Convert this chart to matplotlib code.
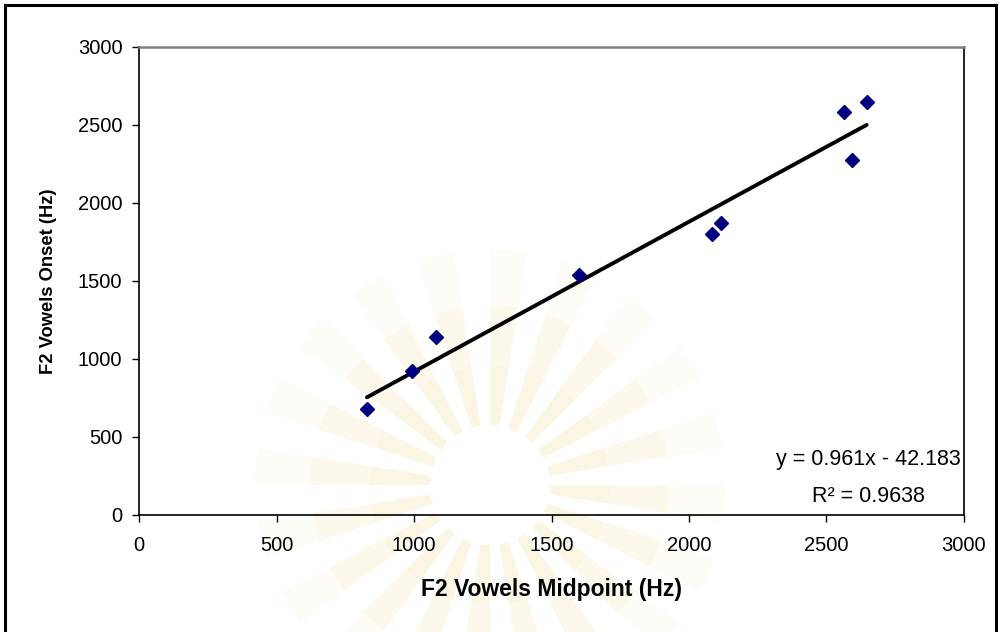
import matplotlib
matplotlib.use("Agg")
import matplotlib.pyplot as plt
from matplotlib.patches import Rectangle, Wedge
import numpy as np

plt.rcParams['font.family'] = ['Liberation Sans', 'DejaVu Sans']

# F2 measurements (Hz): vowel midpoint vs. vowel onset
midpoint = [829, 993, 1080, 1600, 2085, 2115, 2565, 2593, 2646]
onset = [680, 920, 1140, 1540, 1800, 1870, 2585, 2278, 2650]

# linear trendline as reported
slope = 0.961
intercept = -42.183
r_squared = 0.9638

x_ticks = [0, 500, 1000, 1500, 2000, 2500, 3000]
y_ticks = [0, 500, 1000, 1500, 2000, 2500, 3000]

W, H = 999, 632
fig = plt.figure(figsize=(W / 100, H / 100), dpi=100)

# very pale sunburst emblem in the page background (pixel coordinates)
bg = fig.add_axes([0, 0, 1, 1], zorder=0)
bg.set_xlim(0, W)
bg.set_ylim(H, 0)
bg.set_aspect('equal')
bg.axis('off')
cx, cy = 490, 485
n_rays = 40
rings = [(60, 120, '#fbf6e3'), (120, 180, '#fcf9ec'), (180, 235, '#fefcf6')]
for i in range(0, n_rays, 2):
    a0 = 360 * i / n_rays
    for r_in, r_out, col in rings:
        bg.add_patch(Wedge((cx, cy), r_out, a0, a0 + 360 / n_rays,
                           width=r_out - r_in, facecolor=col,
                           edgecolor='none'))

ax = fig.add_axes([139 / W, 117 / H, 825 / W, 468 / H], zorder=1)
ax.patch.set_alpha(0)

ax.plot(midpoint, onset, linestyle='none', marker='D', markersize=7,
        color='#000080', markeredgecolor='#000080', zorder=3)

xs = np.array([min(midpoint), max(midpoint)])
ax.plot(xs, slope * xs + intercept, color='black', linewidth=2.8,
        solid_capstyle='round', zorder=2)

ax.set_xlim(0, 3000)
ax.set_ylim(0, 3000)
ax.set_xticks(x_ticks)
ax.set_yticks(y_ticks)
ax.tick_params(direction='out', length=5, width=1, labelsize=14.5,
               color='black')
ax.tick_params(axis='x', pad=10)
ax.tick_params(axis='y', pad=7)

for side in ('left', 'bottom', 'right'):
    ax.spines[side].set_color('black')
    ax.spines[side].set_linewidth(1.2)
ax.spines['top'].set_color('#808080')
ax.spines['top'].set_linewidth(1.8)

ax.set_xlabel('F2 Vowels Midpoint (Hz)', fontsize=16.5, fontweight='bold',
              labelpad=17)
ax.set_ylabel('F2 Vowels Onset (Hz)', fontsize=13.2, fontweight='bold',
              labelpad=15)

# trendline equation and R-squared
sign = '-' if intercept < 0 else '+'
eq_x = 0.884
ax.text(eq_x, 0.119, f'y = {slope}x {sign} {abs(intercept)}',
        transform=ax.transAxes, ha='center', va='center', fontsize=15.5)
ax.text(eq_x, 0.04, f'R\u00b2 = {r_squared}',
        transform=ax.transAxes, ha='center', va='center', fontsize=15.5)

# outer chart border
fig.patches.append(Rectangle((5 / W, -0.05), 991 / W, 1.05 - 5 / H,
                             transform=fig.transFigure, fill=False,
                             edgecolor='black', linewidth=2.2,
                             clip_on=False, zorder=5))

fig.savefig('out.png', dpi=100)
